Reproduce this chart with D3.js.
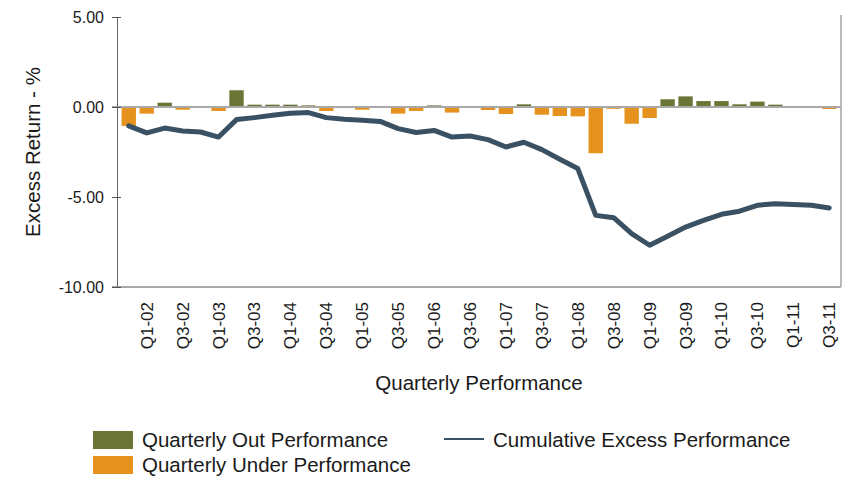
<!DOCTYPE html>
<html>
<head>
<meta charset="utf-8">
<script src="https://cdn.jsdelivr.net/npm/d3@7"></script>
<style>
  body { margin: 0; background: #fff; }
  text { font-family: "Liberation Sans", Arial, sans-serif; fill: #1a1a1a; }
</style>
</head>
<body>
<script>
// chart size
var width = 852;
var height = 477;

// quarters, Q4-01 .. Q3-11
var quarters = ["Q4-01",
  "Q1-02","Q2-02","Q3-02","Q4-02",
  "Q1-03","Q2-03","Q3-03","Q4-03",
  "Q1-04","Q2-04","Q3-04","Q4-04",
  "Q1-05","Q2-05","Q3-05","Q4-05",
  "Q1-06","Q2-06","Q3-06","Q4-06",
  "Q1-07","Q2-07","Q3-07","Q4-07",
  "Q1-08","Q2-08","Q3-08","Q4-08",
  "Q1-09","Q2-09","Q3-09","Q4-09",
  "Q1-10","Q2-10","Q3-10","Q4-10",
  "Q1-11","Q2-11","Q3-11"];

// labels shown on the x axis
var shownTicks = ["Q1-02","Q3-02","Q1-03","Q3-03","Q1-04","Q3-04","Q1-05","Q3-05",
  "Q1-06","Q3-06","Q1-07","Q3-07","Q1-08","Q3-08","Q1-09","Q3-09",
  "Q1-10","Q3-10","Q1-11","Q3-11"];

// quarterly excess return (%)
var quarterly = [-1.05,
  -0.37, 0.24, -0.15, -0.04,
  -0.22, 0.93, 0.13, 0.13,
  0.13, 0.09, -0.22, -0.06,
  -0.15, -0.03, -0.37, -0.22,
  0.09, -0.31, 0.04, -0.17,
  -0.39, 0.15, -0.43, -0.50,
  -0.52, -2.57, -0.10, -0.93,
  -0.61, 0.43, 0.59, 0.33,
  0.33, 0.15, 0.30, 0.13,
  -0.03, -0.03, -0.11];

// cumulative excess return (%)
var cumulative = [-1.05,
  -1.44, -1.17, -1.33, -1.39,
  -1.67, -0.70, -0.59, -0.46,
  -0.35, -0.31, -0.59, -0.68,
  -0.74, -0.80, -1.20, -1.42,
  -1.30, -1.67, -1.61, -1.81,
  -2.22, -1.96, -2.37, -2.90,
  -3.42, -6.02, -6.15, -7.04,
  -7.68, -7.18, -6.67, -6.30,
  -5.96, -5.79, -5.46, -5.37,
  -5.41, -5.46, -5.61];

var yTicks = [5, 0, -5, -10];

var legendItems = ["Quarterly Out Performance", "Quarterly Under Performance", "Cumulative Excess Performance"];

var colOut = "#6b7535";
var colUnder = "#e5931e";
var colLine = "#3a5164";

// plot area (window.top is read only, so other names)
var plotL = 117, plotR = 841, plotT = 17, plotB = 287;

var svg = d3.select("body")
  .append("svg")
  .attr("width", width)
  .attr("height", height);

var x = d3.scaleBand()
  .domain(quarters)
  .range([plotL, plotR])
  .paddingInner(0.2)
  .paddingOuter(0.255);

var y = d3.scaleLinear()
  .domain([-10, 5])
  .range([plotB, plotT]);

// right border
svg.append("line")
  .attr("x1", plotR).attr("x2", plotR)
  .attr("y1", plotT - 2).attr("y2", plotB)
  .attr("stroke", "#777").attr("stroke-width", 1);

// bars
svg.selectAll("rect.bar")
  .data(quarterly)
  .enter()
  .append("rect")
  .attr("class", "bar")
  .attr("x", function(d, i) { return x(quarters[i]); })
  .attr("width", x.bandwidth())
  .attr("y", function(d) { return y(Math.max(0, d)); })
  .attr("height", function(d) { return Math.abs(y(d) - y(0)); })
  .attr("fill", function(d) { return d >= 0 ? colOut : colUnder; });

// zero line and bottom line
svg.append("line")
  .attr("x1", plotL - 5).attr("x2", plotR)
  .attr("y1", y(0)).attr("y2", y(0))
  .attr("stroke", "#a8a8a8").attr("stroke-width", 2);

svg.append("line")
  .attr("x1", plotL - 5).attr("x2", plotR)
  .attr("y1", y(-10)).attr("y2", y(-10))
  .attr("stroke", "#a8a8a8").attr("stroke-width", 2);

// y axis
var yAxis = svg.append("g")
  .attr("transform", "translate(" + plotL + ",0)")
  .call(d3.axisLeft(y)
    .tickValues(yTicks)
    .tickSizeOuter(0)
    .tickSizeInner(5)
    .tickPadding(8)
    .tickFormat(function(d) { return d.toFixed(2); }));

yAxis.select(".domain").attr("stroke", "#666");
yAxis.selectAll(".tick line").attr("x1", 4).attr("stroke", "#555");
yAxis.selectAll(".tick text")
  .style("font-size", "16px")
  .style("font-family", "Liberation Sans, Arial, sans-serif")
  .attr("fill", "#1a1a1a");

// x axis labels
var xAxis = svg.append("g")
  .attr("transform", "translate(0," + plotB + ")")
  .call(d3.axisBottom(x).tickValues(shownTicks).tickSize(0));

xAxis.select(".domain").remove();
xAxis.selectAll(".tick text")
  .attr("transform", "rotate(-90)")
  .attr("x", -15)
  .attr("y", 0)
  .attr("dy", "0.35em")
  .style("text-anchor", "end")
  .style("font-size", "17px")
  .style("font-family", "Liberation Sans, Arial, sans-serif")
  .attr("fill", "#1a1a1a");

// cumulative line
var line = d3.line()
  .x(function(d, i) { return x(quarters[i]) + x.bandwidth() / 2; })
  .y(function(d) { return y(d); });

svg.append("path")
  .datum(cumulative)
  .attr("d", line)
  .attr("fill", "none")
  .attr("stroke", colLine)
  .attr("stroke-width", 5)
  .attr("stroke-linejoin", "round")
  .attr("stroke-linecap", "round");

// axis titles
svg.append("text")
  .attr("transform", "translate(40," + ((plotT + plotB) / 2) + ") rotate(-90)")
  .attr("text-anchor", "middle")
  .style("font-size", "20.5px")
  .text("Excess Return - %");

svg.append("text")
  .attr("x", 479)
  .attr("y", 390)
  .attr("text-anchor", "middle")
  .style("font-size", "20.5px")
  .text("Quarterly Performance");

// legend
var legend = svg.append("g");

legend.append("rect")
  .attr("x", 93).attr("y", 431).attr("width", 40).attr("height", 18)
  .attr("fill", colOut);
legend.append("text")
  .attr("x", 142).attr("y", 447)
  .style("font-size", "20.5px")
  .text(legendItems[0]);

legend.append("rect")
  .attr("x", 93).attr("y", 456).attr("width", 40).attr("height", 18)
  .attr("fill", colUnder);
legend.append("text")
  .attr("x", 142).attr("y", 472)
  .style("font-size", "20.5px")
  .text(legendItems[1]);

legend.append("line")
  .attr("x1", 444).attr("x2", 484)
  .attr("y1", 439).attr("y2", 439)
  .attr("stroke", colLine).attr("stroke-width", 2);
legend.append("text")
  .attr("x", 493).attr("y", 447)
  .style("font-size", "20.5px")
  .text(legendItems[2]);
</script>
</body>
</html>
